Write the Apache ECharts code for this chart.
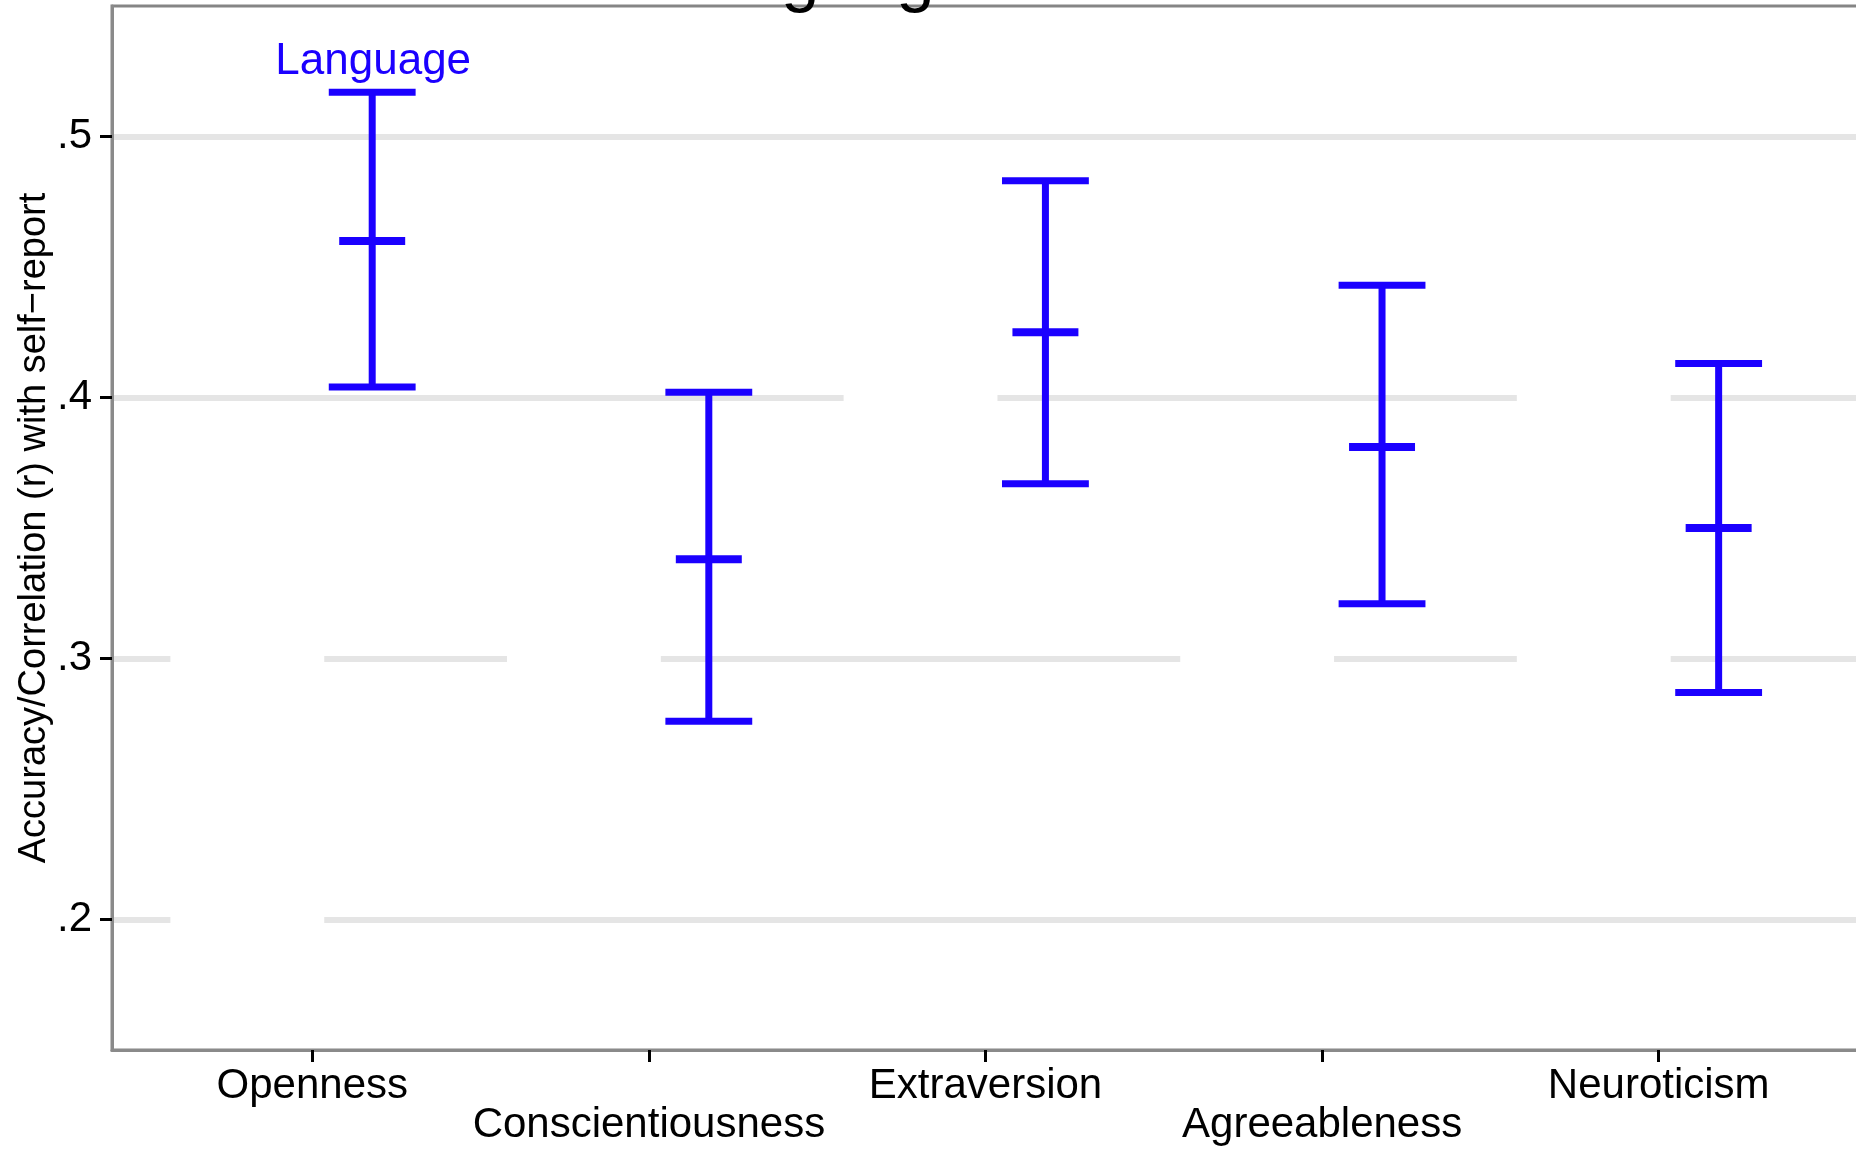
<!DOCTYPE html>
<html>
<head>
<meta charset="utf-8">
<title>Language</title>
<script src="https://cdn.jsdelivr.net/npm/echarts@6/dist/echarts.min.js"></script>
<style>
  html, body { margin: 0; padding: 0; background: #ffffff; }
  #chart { width: 1856px; height: 1149px; }
</style>
</head>
<body>
<div id="chart"></div>
<script>
// Big Five traits on the horizontal axis
const categories = ['Openness', 'Conscientiousness', 'Extraversion', 'Agreeableness', 'Neuroticism'];

// Language-based accuracy: lower bound, estimate, upper bound
const langLow  = [0.404, 0.276, 0.367, 0.321, 0.287];
const langEst  = [0.460, 0.338, 0.425, 0.381, 0.350];
const langHigh = [0.517, 0.402, 0.483, 0.443, 0.413];

// Blank bands of the hidden comparison series (they break the grid lines)
const hiddenLow  = [0.18, 0.25, 0.34, 0.26, 0.27];
const hiddenHigh = [0.36, 0.37, 0.46, 0.38, 0.45];

// Value axis tick labels
const yTicks = [0.2, 0.3, 0.4, 0.5];
const xTicks = [1, 2, 3, 4, 5];

const BLUE = '#1b00ff';
const FONT = '"Liberation Sans", Arial, Helvetica, sans-serif';
const LANG_SHIFT = 0.178;   // dodge of the Language bars to the right of each tick
const HIDDEN_SHIFT = -0.193;
const HIDDEN_WIDTH = 0.457;

const chart = echarts.init(document.getElementById('chart'), null, { renderer: 'canvas' });

function renderErrorBar(params, api) {
  const xv = api.value(0) + LANG_SHIFT;
  const pLow = api.coord([xv, api.value(1)]);
  const pEst = api.coord([xv, api.value(2)]);
  const pHigh = api.coord([xv, api.value(3)]);
  const capHalf = api.size([0.129, 0])[0];
  const midHalf = api.size([0.098, 0])[0];
  const style = { stroke: BLUE, lineWidth: 7, lineCap: 'butt' };
  const children = [
    { type: 'line', shape: { x1: pHigh[0], y1: pHigh[1], x2: pLow[0], y2: pLow[1] }, style: style },
    { type: 'line', shape: { x1: pHigh[0] - capHalf, y1: pHigh[1], x2: pHigh[0] + capHalf, y2: pHigh[1] }, style: style },
    { type: 'line', shape: { x1: pLow[0] - capHalf, y1: pLow[1], x2: pLow[0] + capHalf, y2: pLow[1] }, style: style },
    { type: 'line', shape: { x1: pEst[0] - midHalf, y1: pEst[1], x2: pEst[0] + midHalf, y2: pEst[1] },
      style: { stroke: BLUE, lineWidth: 8, lineCap: 'butt' } }
  ];
  if (params.dataIndex === 0) {
    children.push({
      type: 'text',
      style: {
        text: params.seriesName,
        x: pHigh[0] + 1,
        y: pHigh[1] - 8,
        align: 'center',
        verticalAlign: 'bottom',
        fontSize: 44,
        fontFamily: FONT,
        fill: BLUE
      }
    });
  }
  return { type: 'group', children: children };
}

function renderHidden(params, api) {
  const xv = api.value(0) + HIDDEN_SHIFT;
  const pTop = api.coord([xv - HIDDEN_WIDTH / 2, api.value(2)]);
  const pBot = api.coord([xv + HIDDEN_WIDTH / 2, api.value(1)]);
  return {
    type: 'rect',
    shape: { x: pTop[0], y: pTop[1], width: pBot[0] - pTop[0], height: pBot[1] - pTop[1] },
    style: { fill: '#ffffff' }
  };
}

const option = {
  backgroundColor: '#ffffff',
  animation: false,
  title: {
    text: 'Language',
    left: 661,
    top: -60,
    z: 10,
    textStyle: { fontSize: 69, fontWeight: 'normal', color: '#000000', fontFamily: FONT }
  },
  grid: {
    left: 112,
    right: -2,
    top: 6,
    bottom: 99,
    outerBoundsMode: 'none',
    containLabel: false,
    show: true,
    borderColor: '#858585',
    borderWidth: 3,
    backgroundColor: '#ffffff'
  },
  xAxis: {
    type: 'value',
    min: 0.405,
    max: 5.592,
    axisLine: { show: true, lineStyle: { color: '#8a8a8a', width: 3 } },
    axisTick: { show: true, customValues: xTicks, length: 12, lineStyle: { color: '#000000', width: 3 } },
    splitLine: { show: false },
    axisLabel: {
      customValues: xTicks,
      margin: 17,
      fontSize: 42,
      lineHeight: 39,
      fontFamily: FONT,
      color: '#000000',
      formatter: function (v) {
        const i = Math.round(v) - 1;
        return (i % 2 === 1 ? '\n' : '') + categories[i];
      }
    }
  },
  yAxis: {
    type: 'value',
    min: 0.15,
    max: 0.55,
    name: 'Accuracy/Correlation (r) with self\u2212report',
    nameLocation: 'middle',
    nameGap: 58,
    nameMoveOverlap: false,
    nameTextStyle: { fontSize: 38, fontFamily: FONT, color: '#000000' },
    axisLine: { show: true, lineStyle: { color: '#8a8a8a', width: 3 } },
    axisTick: { show: true, customValues: yTicks, length: 12, lineStyle: { color: '#000000', width: 3 } },
    splitLine: { show: true, lineStyle: { color: '#e5e5e5', width: 6 } },
    axisLabel: {
      customValues: yTicks,
      margin: 20,
      fontSize: 42,
      fontFamily: FONT,
      color: '#000000',
      formatter: function (v) { return v.toFixed(1).replace(/^0/, ''); }
    }
  },
  series: [
    {
      name: 'hidden',
      type: 'custom',
      z: 1,
      silent: true,
      renderItem: renderHidden,
      data: categories.map((c, i) => [i + 1, hiddenLow[i], hiddenHigh[i]])
    },
    {
      name: 'Language',
      type: 'custom',
      z: 3,
      renderItem: renderErrorBar,
      data: categories.map((c, i) => [i + 1, langLow[i], langEst[i], langHigh[i]])
    }
  ]
};

chart.setOption(option);
</script>
</body>
</html>
